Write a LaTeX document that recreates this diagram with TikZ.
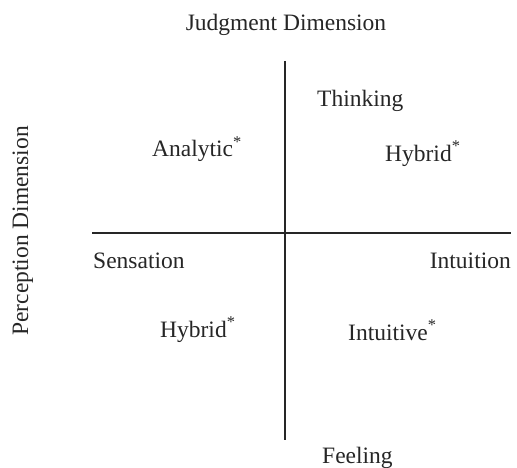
\documentclass[tikz,border=0pt]{standalone}
\usepackage{fontspec}
\setmainfont{Liberation Serif}
\usepackage{tikz}
\tikzstyle{every node} = [font=\fontsize{23.5}{28}\selectfont, inner sep=0pt, text=black!85]
\tikzstyle{axis} = [line width=1.4pt, black!85]
\tikzstyle{label} = [anchor=base west]

\begin{document}
\begin{tikzpicture}[x=1pt, y=-1pt]
        \useasboundingbox (0,0) rectangle (517,468);
        % axes
        \coordinate (top) at (285,61);
        \coordinate (bottom) at (285,440);
        \coordinate (left) at (92,233);
        \coordinate (right) at (511,233);
        \draw[axis] (top) -- (bottom);
        \draw[axis] (left) -- (right);
        % dimension titles
        \node[anchor=base] (judgment) at (286,31) {Judgment Dimension};
        \node[anchor=base, rotate=90] (perception) at (28,231) {Perception Dimension};
        % poles
        \node[label] (thinking) at (317,107) {Thinking};
        \node[label] (feeling) at (322,463) {Feeling};
        \node[label] (sensation) at (93,268) {Sensation};
        \node[anchor=base east] (intuition) at (511,268) {Intuition};
        % quadrants
        \node[label] (analytic) at (152,157) {Analytic\textsuperscript{*}};
        \node[label] (hybridTR) at (385,161) {Hybrid\textsuperscript{*}};
        \node[label] (hybridBL) at (160,337) {Hybrid\textsuperscript{*}};
        \node[label] (intuitive) at (348,340) {Intuitive\textsuperscript{*}};
    \end{tikzpicture}
\end{document}
